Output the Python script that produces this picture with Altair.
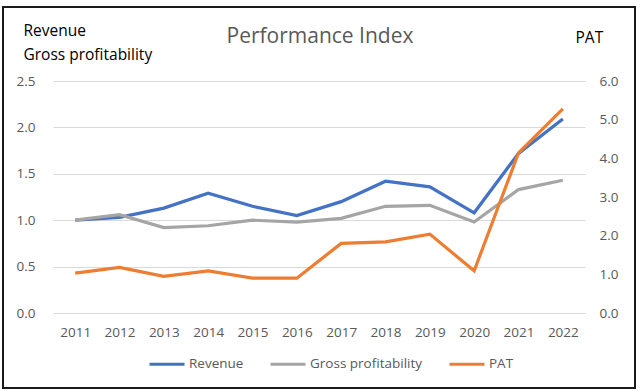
import altair as alt
import pandas as pd

years = [str(y) for y in range(2011, 2023)]
revenue = [1.00, 1.03, 1.13, 1.29, 1.15, 1.05, 1.20, 1.42, 1.36, 1.08, 1.72, 2.09]
gross = [1.00, 1.06, 0.92, 0.94, 1.00, 0.98, 1.02, 1.15, 1.16, 0.98, 1.33, 1.43]
pat = [1.03, 1.18, 0.95, 1.09, 0.90, 0.90, 1.80, 1.84, 2.04, 1.09, 4.14, 5.28]

series = ["Revenue", "Gross profitability", "PAT"]
colors = ["#4472C4", "#A5A5A5", "#ED7D31"]
title_text = "Performance Index"

left_df = pd.DataFrame({
    "year": years * 2,
    "value": revenue + gross,
    "series": ["Revenue"] * 12 + ["Gross profitability"] * 12,
})
right_df = pd.DataFrame({"year": years, "value": pat, "series": ["PAT"] * 12})

FONT = "Open Sans"
GRAY = "#595959"

color = alt.Color(
    "series:N",
    scale=alt.Scale(domain=series, range=colors),
    legend=alt.Legend(
        title=None, orient="none", direction="horizontal",
        legendX=95, legendY=264,
        symbolType="stroke", symbolSize=1225, symbolStrokeWidth=3,
        labelFontSize=13.5, labelFont=FONT, labelColor=GRAY,
        columnPadding=20, labelOffset=3,
    ),
)

xenc = alt.X(
    "year:O", sort=years, title=None,
    axis=alt.Axis(labelAngle=0, domain=False, ticks=False, labelPadding=12,
                  labelFont=FONT, labelFontSize=13.5, labelColor=GRAY),
)

left = alt.Chart(left_df).mark_line(strokeWidth=3.2).encode(
    x=xenc,
    y=alt.Y(
        "value:Q",
        scale=alt.Scale(domain=[0, 2.5]),
        axis=alt.Axis(
            values=[0, 0.5, 1.0, 1.5, 2.0, 2.5], format=".1f",
            domain=False, ticks=False, labelPadding=18,
            labelFont=FONT, labelFontSize=13.5, labelColor=GRAY,
            gridColor="#D9D9D9", gridWidth=1,
            title=["Revenue", "Gross profitability"], titleAngle=0,
            titleAlign="left", titleBaseline="middle",
            titleX=-30, titleY=-51, titleLineHeight=24,
            titleFont=FONT, titleFontSize=15.5, titleFontWeight="normal",
            titleColor="#000000",
        ),
    ),
    color=color,
    detail="series:N",
)

right = alt.Chart(right_df).mark_line(strokeWidth=3.2).encode(
    x=xenc,
    y=alt.Y(
        "value:Q",
        scale=alt.Scale(domain=[0, 6]),
        axis=alt.Axis(
            orient="right", values=[0, 1, 2, 3, 4, 5, 6], format=".1f",
            domain=False, ticks=False, grid=False, labelPadding=14,
            labelFont=FONT, labelFontSize=13.5, labelColor=GRAY,
            title="PAT", titleAngle=0, titleAlign="left", titleBaseline="middle",
            titleX=-10, titleY=-44,
            titleFont=FONT, titleFontSize=15.5, titleFontWeight="normal",
            titleColor="#000000",
        ),
    ),
    color=color,
)

one = pd.DataFrame({"a": [0]})

border = alt.Chart(one).mark_rect(
    fill=None, stroke="#1a1a1a", strokeWidth=2
).encode(
    x=alt.value(-50), x2=alt.value(582), y=alt.value(-74), y2=alt.value(307)
)

title = alt.Chart(one).mark_text(
    font=FONT, fontSize=21, color=GRAY, align="center", baseline="middle"
).encode(x=alt.value(267), y=alt.value(-44), text=alt.value(title_text))

chart = alt.layer(left, right, border, title).resolve_scale(y="independent").properties(
    width=532, height=232,
    padding={"left": 53, "top": 81, "right": 55, "bottom": 78},
    autosize=alt.AutoSizeParams(type="none"),
    background="white",
).configure_view(stroke=None)

chart.save("out.html", embed_options={"renderer": "svg", "actions": False})
